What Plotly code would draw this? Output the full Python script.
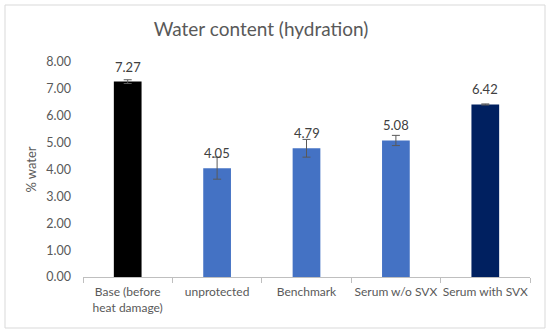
import plotly.graph_objects as go

categories = ["Base (before<br>heat damage)", "unprotected", "Benchmark", "Serum w/o SVX", "Serum with SVX"]
values = [7.27, 4.05, 4.79, 5.08, 6.42]
errors = [0.07, 0.41, 0.33, 0.19, 0.02]
labels = ["7.27", "4.05", "4.79", "5.08", "6.42"]
colors = ["#000000", "#4472C4", "#4472C4", "#4472C4", "#002060"]
y_ticks = [0, 1, 2, 3, 4, 5, 6, 7, 8]

FONT = "Lato"
GREY = "#595959"

fig = go.Figure()
fig.add_trace(go.Bar(
    x=categories, y=values,
    marker=dict(color=colors, line=dict(width=0)),
    width=0.31,
    error_y=dict(type="data", array=errors, visible=True, color=GREY, thickness=1, width=4),
    hoverinfo="skip",
))
for c, v, t in zip(categories, values, labels):
    fig.add_annotation(x=c, y=v, text=t, showarrow=False, yanchor="bottom", yshift=5,
                       font=dict(family=FONT, size=13, color="#404040"))

W, H = 550, 334
ml, mr, mt, mb = 83, 20, 62, 57
pw, ph = W - ml - mr, H - mt - mb

def px(x):
    return (x - ml) / pw

def py(y):
    return (H - mb - y) / ph

fig.add_shape(type="rect", xref="paper", yref="paper",
              x0=px(5), x1=px(545), y0=py(328), y1=py(5),
              line=dict(color="#d9d9d9", width=1), fillcolor="rgba(0,0,0,0)", layer="below")

fig.update_layout(
    width=W, height=H,
    margin=dict(l=ml, r=mr, t=mt, b=mb, autoexpand=False),
    paper_bgcolor="white", plot_bgcolor="white",
    showlegend=False,
    title=dict(text="Water content (hydration)", x=px(261), xanchor="center",
               xref="paper", y=1 - 29 / H, yanchor="middle",
               font=dict(family=FONT, size=19, color=GREY)),
    font=dict(family=FONT, color=GREY),
    bargap=0.69,
)
fig.update_xaxes(
    showline=True, linecolor="#bfbfbf", linewidth=1,
    ticks="outside", tickson="boundaries", ticklen=5, tickcolor="#bfbfbf",
    tickfont=dict(family=FONT, size=12, color=GREY),
    tickangle=0, automargin=False, ticklabelstandoff=4,
    showgrid=False,
)
fig.update_yaxes(
    range=[0, 8], tickvals=y_ticks, tickformat=".2f",
    showgrid=False, zeroline=False, showline=False,
    tickfont=dict(family=FONT, size=12.5, color=GREY),
    title=dict(text="% water", font=dict(family=FONT, size=13, color=GREY), standoff=6),
    ticklabelstandoff=11, automargin=False,
)

fig.write_html("out.html", config={"displayModeBar": False},
               post_script="document.body.style.margin='0';document.body.style.overflow='hidden';")
